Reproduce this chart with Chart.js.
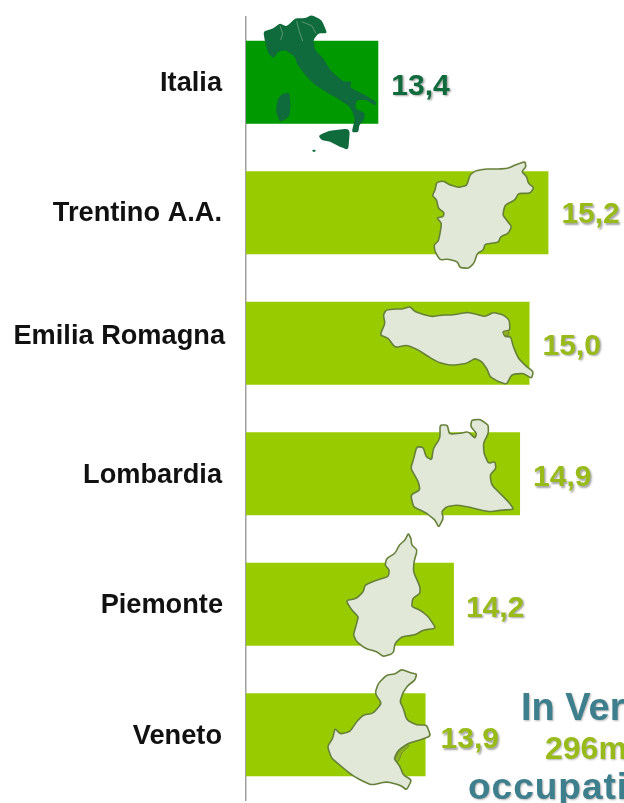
<!DOCTYPE html>
<html>
<head>
<meta charset="utf-8">
<style>
  html, body { margin: 0; padding: 0; background: #fff; overflow: hidden; }
  canvas { display: block; }
</style>
<script src="https://cdn.jsdelivr.net/npm/chart.js@4"></script>
</head>
<body>
<canvas id="myChart" width="624" height="803"></canvas>
<script>
var categories = ["Italia", "Trentino A.A.", "Emilia Romagna", "Lombardia", "Piemonte", "Veneto"];
var values = [13.4, 15.2, 15.0, 14.9, 14.2, 13.9];
var barColors = ["#009900", "#99CC00", "#99CC00", "#99CC00", "#99CC00", "#99CC00"];
var labelColors = ["#0F6A3C", "#99BB1A", "#99BB1A", "#99BB1A", "#99BB1A", "#99BB1A"];

// small tweaks, the labels in the original are placed by hand
var tickNudge = [[0, 1], [0, 1], [3, -7], [0, 2], [1, 1], [0, 2]];
var valueNudge = [[13, 4], [13, 2], [13, 3], [13, 4], [12, 4], [15, 5]];

// region outlines, traced at 3x from the picture: [originX, originY, points]
var italyShapes = [
  [240, 5, [215,30,245,45,262,85,235,85,220,105,225,135,250,160,270,195,310,230,335,228,330,248,375,270,410,292,405,302,380,285,350,285,345,310,375,325,372,345,358,360,355,382,335,382,345,340,330,305,300,285,265,265,225,240,195,210,170,175,165,155,135,135,115,140,100,160,85,145,75,110,70,80,100,70,120,55,140,65,165,40,195,40]],
  [240, 5, [125,268,148,262,152,300,148,335,120,352,108,320,112,285]],
  [240, 5, [235,392,265,378,330,370,325,435,300,425,270,410,245,405]],
  [240, 5, [218,434,226,434,226,440,218,440]]
];
var italyBorders = [
  [240, 5, [120,62,128,85,122,105]],
  [240, 5, [170,48,178,80,188,108]],
  [240, 5, [185,50,215,62,228,85]]
];
var regionShapes = [
  [370, 155, [465,20,440,28,415,40,385,42,345,42,315,48,300,60,290,92,265,97,240,90,220,78,200,82,195,105,187,122,200,135,205,160,222,172,220,185,200,188,215,205,210,235,205,258,192,270,195,290,210,315,235,312,262,320,270,338,295,340,312,325,322,295,340,285,345,268,365,265,385,262,392,245,415,235,425,215,412,198,398,180,405,150,435,135,445,115,480,115,492,98,475,85,470,65,455,50,468,35]],
  [370, 155, [48,465,75,462,95,462,120,455,135,470,160,478,185,485,215,480,250,480,290,472,320,478,345,485,370,472,400,480,418,495,420,525,398,530,405,545,422,545,430,575,445,610,470,635,490,650,485,670,460,655,425,658,410,688,385,680,360,665,350,640,335,620,315,610,290,625,260,630,235,630,205,622,175,605,145,585,110,570,75,578,55,550,30,540,45,505,40,480]],
  [340, 410, [300,45,322,45,328,72,360,70,385,65,405,85,410,70,392,50,395,30,420,28,445,45,445,70,430,100,432,130,445,160,465,155,468,175,450,195,455,225,480,250,505,275,522,298,490,300,450,305,420,300,390,292,350,285,320,290,305,305,310,325,296,352,285,330,260,310,240,300,220,290,212,255,240,240,235,215,212,175,220,150,230,110,250,112,258,140,275,150,280,115,300,85]],
  [340, 410, [205,370,213,385,215,405,232,420,222,455,220,485,240,530,240,550,218,565,215,590,240,600,265,620,288,655,250,660,225,675,185,680,165,700,160,730,130,740,110,725,75,715,50,695,40,675,50,640,55,620,35,600,18,572,50,565,70,545,75,525,110,510,145,500,148,480,135,465,140,445,165,430,178,405,195,390]],
  [320, 660, [245,28,270,38,290,42,285,60,262,78,248,100,240,125,250,145,260,180,290,195,320,195,332,228,300,240,265,250,235,270,222,295,240,320,250,345,275,360,260,390,240,375,200,365,155,375,125,362,95,345,65,320,35,295,22,260,38,235,45,205,60,222,90,215,110,185,130,165,160,160,185,130,165,100,175,70,200,45,225,42]]
];
var lagoonShapes = [
  [370, 155, [398,530,416,526,416,542,404,542]],
  [320, 660, [224,296,238,272,262,254,268,258,244,280,238,300,232,306]]
];

// rounds only the corners, so the traced outlines keep their size
function tracePath(ctx, shape) {
  var pts = shape[2];
  var n = pts.length / 2;
  function px(i) { return shape[0] + pts[(i % n) * 2] / 3; }
  function py(i) { return shape[1] + pts[(i % n) * 2 + 1] / 3; }
  ctx.beginPath();
  ctx.moveTo((px(0) + px(1)) / 2, (py(0) + py(1)) / 2);
  for (var i = 1; i <= n; i++) {
    ctx.lineTo(px(i - 1) * 0.25 + px(i) * 0.75, py(i - 1) * 0.25 + py(i) * 0.75);
    ctx.quadraticCurveTo(px(i), py(i), px(i) * 0.75 + px(i + 1) * 0.25, py(i) * 0.75 + py(i + 1) * 0.25);
  }
  ctx.closePath();
}

var mapsPlugin = {
  id: "maps",
  afterDatasetsDraw(chart) {
    var ctx = chart.ctx;
    ctx.save();
    ctx.lineJoin = "round";
    ctx.fillStyle = "#0F6A3C";
    italyShapes.forEach(function(s) {
      tracePath(ctx, s);
      ctx.fill();
    });
    ctx.strokeStyle = "rgba(170,200,170,0.7)";
    ctx.lineWidth = 0.7;
    italyBorders.forEach(function(s) {
      ctx.beginPath();
      for (var i = 0; i < s[2].length; i += 2) {
        ctx.lineTo(s[0] + s[2][i] / 3, s[1] + s[2][i + 1] / 3);
      }
      ctx.stroke();
    });
    ctx.fillStyle = "#E1E8D8";
    ctx.strokeStyle = "#66803A";
    ctx.lineWidth = 1.6;
    regionShapes.forEach(function(s) {
      tracePath(ctx, s);
      ctx.fill();
      ctx.stroke();
    });
    ctx.fillStyle = "#8DB020";
    ctx.lineWidth = 0.8;
    lagoonShapes.forEach(function(s) {
      tracePath(ctx, s);
      ctx.fill();
      ctx.stroke();
    });
    ctx.restore();
  }
};

var valueLabels = {
  id: "valueLabels",
  afterDatasetsDraw(chart) {
    var ctx = chart.ctx;
    var bars = chart.getDatasetMeta(0).data;
    ctx.save();
    ctx.font = "bold 30px 'Liberation Sans'";
    ctx.textAlign = "left";
    ctx.textBaseline = "middle";
    ctx.shadowColor = "rgba(90,90,90,0.55)";
    ctx.shadowBlur = 2;
    ctx.shadowOffsetX = 1.5;
    ctx.shadowOffsetY = 1.5;
    bars.forEach(function(bar, i) {
      ctx.fillStyle = labelColors[i];
      ctx.fillText(values[i].toFixed(1).replace(".", ","), bar.x + valueNudge[i][0], bar.y + valueNudge[i][1]);
    });
    ctx.restore();
  }
};

// the callout at the bottom right runs off the edge of the picture
var calloutLines = ["In Ver", "296m", "occupati"];
var calloutColors = ["#3D7F8C", "#99BB1A", "#3D7F8C"];
var calloutFonts = [38, 32, 37];
var calloutX = [521, 545, 468];
var calloutY = [720, 759, 799];

var callout = {
  id: "callout",
  afterDraw(chart) {
    var ctx = chart.ctx;
    ctx.save();
    ctx.textAlign = "left";
    ctx.textBaseline = "alphabetic";
    ctx.shadowColor = "rgba(90,90,90,0.45)";
    ctx.shadowBlur = 2;
    ctx.shadowOffsetX = 1;
    ctx.shadowOffsetY = 1;
    calloutLines.forEach(function(line, i) {
      ctx.font = "bold " + calloutFonts[i] + "px 'Liberation Sans'";
      ctx.letterSpacing = i == 2 ? "1px" : "0px";
      ctx.fillStyle = calloutColors[i];
      ctx.fillText(line, calloutX[i], calloutY[i]);
    });
    ctx.restore();
  }
};

var nudgeTicks = {
  id: "nudgeTicks",
  beforeDraw(chart) {
    var items = chart.scales.y.getLabelItems();
    items.forEach(function(item, i) {
      if (item.nudged) return;
      item.options.translation[0] += tickNudge[i][0];
      item.options.translation[1] += tickNudge[i][1];
      item.nudged = true;
    });
  }
};

var myChart = new Chart(document.getElementById("myChart").getContext("2d"), {
  type: "bar",
  data: {
    labels: categories,
    datasets: [{
      data: values,
      backgroundColor: barColors,
      borderWidth: 0,
      barPercentage: 0.636,
      categoryPercentage: 1
    }]
  },
  options: {
    indexAxis: "y",
    responsive: false,
    animation: false,
    layout: { padding: { top: 17, bottom: 3, left: 0, right: 0 } },
    plugins: {
      legend: { display: false },
      tooltip: { enabled: false }
    },
    scales: {
      x: { display: false, min: 12, max: 16 },
      y: {
        afterFit(scale) {
          scale.width = 246;
          scale.paddingTop = 0;
          scale.paddingBottom = 0;
        },
        grid: { display: false, drawTicks: false },
        border: { display: true, color: "#A0A0A0", width: 1.5 },
        ticks: {
          color: "#111111",
          padding: 24,
          font: { family: "'Liberation Sans'", weight: "bold", size: 27.2 }
        }
      }
    }
  },
  plugins: [nudgeTicks, mapsPlugin, valueLabels, callout]
});
</script>
</body>
</html>
